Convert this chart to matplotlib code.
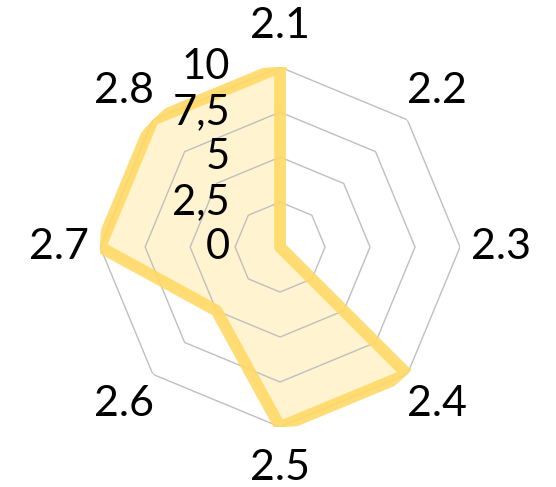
import numpy as np
from matplotlib import pyplot as plt
from matplotlib.transforms import ScaledTranslation

categories = ['2.1', '2.2', '2.3', '2.4', '2.5', '2.6', '2.7', '2.8']
values = [10, 0, 0, 10, 10, 5, 10, 10]
ring_levels = [2.5, 5, 7.5, 10]
ring_labels = ['0', '2,5', '5', '7,5', '10']

plt.rcParams['font.family'] = ['Lato', 'DejaVu Sans']

n = len(categories)
angles = np.linspace(0, 2 * np.pi, n, endpoint=False)
closed_angles = np.append(angles, angles[0])
closed_values = np.append(values, values[0])

fig = plt.figure(figsize=(5.56, 4.87), dpi=100)
ax = fig.add_axes([0.18, 0.1232, 0.6475, 0.739], projection='polar')
ax.set_theta_offset(np.pi / 2)
ax.set_theta_direction(-1)
ax.set_ylim(0, 10)
ax.axis('off')

# octagon rings
for level in ring_levels:
    ax.plot(closed_angles, [level] * (n + 1), color='#BFBFBF', lw=1.0, zorder=3)

# series
ax.fill(closed_angles, closed_values, color='#FFD966', alpha=0.3, lw=0, zorder=2)
ax.plot(closed_angles, closed_values, color='#FFD966', alpha=0.9, lw=8.5,
        solid_joinstyle='round', zorder=4)

# category labels
for a, label in zip(angles, categories):
    ax.text(a, 12.3, label, ha='center', va='center', fontsize=31, color='black')

# radial labels, left of the top axis
shift = ax.transData + ScaledTranslation(-50 / 100, 0, fig.dpi_scale_trans)
for r, label in zip([0] + ring_levels, ring_labels):
    ax.text(0, r, label, ha='right', va='center', fontsize=30, color='black',
            transform=shift, zorder=5)

fig.savefig('out.png', dpi=100)
